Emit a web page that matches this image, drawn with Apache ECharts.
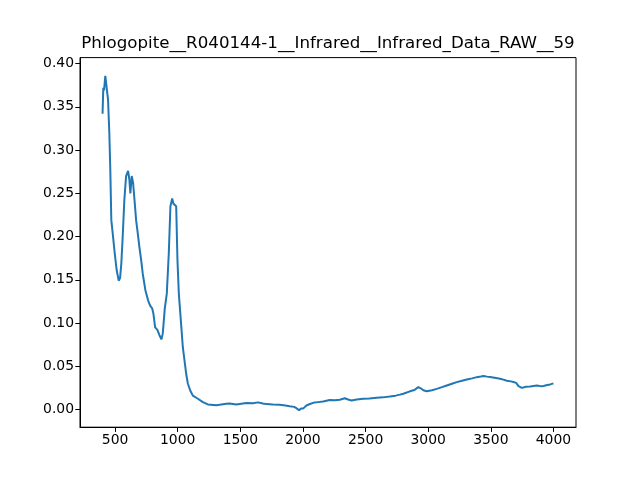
<!DOCTYPE html>
<html>
<head>
<meta charset="utf-8">
<script src="https://cdn.jsdelivr.net/npm/echarts@6/dist/echarts.min.js"></script>
<style>html,body{margin:0;padding:0;background:#fff}#c{width:640px;height:480px}</style>
</head>
<body>
<div id="c"></div>
<script>
const chartTitle = "Phlogopite__R040144-1__Infrared__Infrared_Data_RAW__59";
const wavenumber = [400,406,412,422,433,444,454,462,470,481,497,513,529,540,550,561,574,588,604,614,622,633,644,657,668,681,694,708,721,742,764,780,796,806,820,838,854,870,881,897,913,929,942,956,966,977,988,998,1009,1025,1041,1054,1068,1081,1100,1121,1161,1201,1241,1308,1334,1388,1414,1468,1481,1548,1600,1641,1680,1708,1760,1814,1860,1894,1930,1948,1969,1985,2001,2028,2050,2081,2120,2161,2214,2254,2294,2334,2360,2388,2430,2481,2530,2588,2640,2694,2740,2774,2801,2854,2890,2921,2940,2961,2988,3030,3068,3110,3148,3190,3228,3270,3308,3350,3388,3420,3441,3470,3494,3530,3574,3600,3628,3660,3681,3702,3712,3721,3748,3780,3814,3840,3868,3895,3921,3950,3974,4000];
const absorbance = [0.342,0.372,0.369,0.386,0.384,0.358,0.320,0.277,0.219,0.204,0.181,0.161,0.149,0.152,0.169,0.200,0.242,0.270,0.276,0.266,0.250,0.270,0.262,0.239,0.219,0.204,0.188,0.173,0.157,0.138,0.126,0.120,0.117,0.111,0.095,0.092,0.086,0.081,0.088,0.117,0.134,0.181,0.235,0.244,0.238,0.237,0.235,0.173,0.134,0.103,0.072,0.057,0.041,0.030,0.022,0.016,0.0124,0.0085,0.0058,0.0050,0.0054,0.0066,0.0070,0.0058,0.0056,0.0075,0.0072,0.0082,0.0070,0.0062,0.0058,0.0054,0.0045,0.0037,0.0030,0.0015,-0.0008,0.0012,0.0010,0.0046,0.0060,0.0077,0.0085,0.0093,0.0110,0.0108,0.0112,0.0130,0.0115,0.0104,0.0115,0.0124,0.0128,0.0135,0.0140,0.0150,0.0160,0.0172,0.0182,0.0210,0.0225,0.0259,0.0245,0.0222,0.0210,0.0222,0.0238,0.0258,0.0278,0.0298,0.0316,0.0332,0.0346,0.0360,0.0374,0.0382,0.0388,0.0380,0.0376,0.0368,0.0356,0.0345,0.0332,0.0325,0.0317,0.0308,0.0300,0.0270,0.0250,0.0262,0.0266,0.0272,0.0278,0.0270,0.0272,0.0282,0.0290,0.0302];
const xTicks = [500,1000,1500,2000,2500,3000,3500,4000];
const yTicks = [0,0.05,0.10,0.15,0.20,0.25,0.30,0.35,0.40];

const chart = echarts.init(document.getElementById('c'), null, {renderer:'canvas'});
const pts = wavenumber.map((w,i)=>[w, absorbance[i]]);
const font = 'DejaVu Sans';
chart.setOption({
  animation:false,
  backgroundColor:'#fff',
  grid:{left:80, right:64, top:57.6, bottom:52.8, show:true, borderColor:'#000', borderWidth:1, backgroundColor:'transparent'},
  graphic:[{type:'text', x:328, y:44, style:{text:chartTitle, font:'16.67px "DejaVu Sans"', fill:'#000', textAlign:'center', textVerticalAlign:'middle'}}],
  xAxis:{type:'value', min:220, max:4180,
    axisLine:{show:true, onZero:false, lineStyle:{color:'#000', width:1}},
    axisTick:{show:true, inside:false, length:4.7, lineStyle:{color:'#000', width:1}, customValues:xTicks},
    axisLabel:{color:'#000', fontFamily:font, fontSize:13.9, margin:6, customValues:xTicks, formatter:v=>String(v)},
    splitLine:{show:false}},
  yAxis:{type:'value', min:-0.0205, max:0.4070,
    axisLine:{show:true, onZero:false, lineStyle:{color:'#000', width:1}},
    axisTick:{show:true, inside:false, length:4.7, lineStyle:{color:'#000', width:1}, customValues:yTicks},
    axisLabel:{color:'#000', fontFamily:font, fontSize:13.9, margin:6, customValues:yTicks, formatter:v=>v.toFixed(2)},
    splitLine:{show:false}},
  series:[{type:'line', data:pts, showSymbol:false, smooth:false,
    lineStyle:{color:'#1f77b4', width:2}, itemStyle:{color:'#1f77b4'}}]
});
</script>
</body>
</html>
